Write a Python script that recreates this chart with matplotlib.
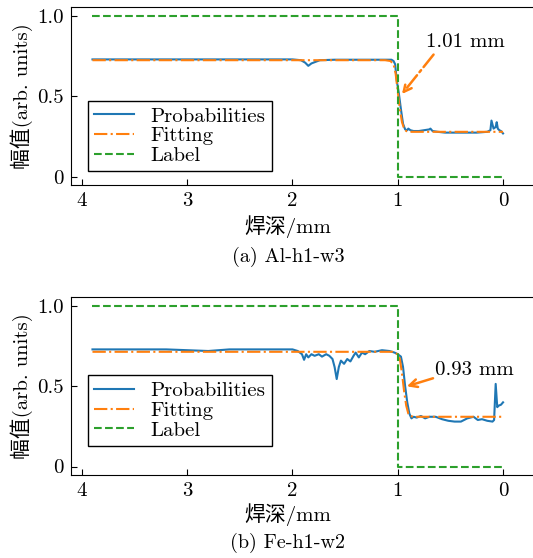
import matplotlib
matplotlib.use("Agg")
import matplotlib.pyplot as plt

plt.rcParams['font.family'] = ['cmr10', 'Noto Sans CJK SC', 'DejaVu Sans']
plt.rcParams['mathtext.fontset'] = 'cm'
plt.rcParams['axes.formatter.use_mathtext'] = True
plt.rcParams['font.size'] = 15

# (a) Al-h1-w3
a_prob_x = [3.9, 3.0, 2.0, 1.92, 1.88, 1.85, 1.82, 1.78, 1.74, 1.6, 1.2, 1.06, 1.04, 1.025,
            1.01, 0.99, 0.97, 0.95, 0.93, 0.91, 0.90, 0.88, 0.85, 0.80, 0.75, 0.70, 0.69,
            0.67, 0.62, 0.55, 0.45, 0.35, 0.25, 0.15, 0.12, 0.11, 0.09, 0.07, 0.06, 0.05,
            0.035, 0.02, 0.0]
a_prob_y = [0.73, 0.73, 0.73, 0.725, 0.71, 0.69, 0.705, 0.715, 0.725, 0.728, 0.728, 0.728, 0.72, 0.70,
            0.60, 0.52, 0.42, 0.33, 0.295, 0.29, 0.30, 0.29, 0.285, 0.285, 0.29, 0.295, 0.30,
            0.285, 0.28, 0.275, 0.275, 0.275, 0.275, 0.28, 0.29, 0.35, 0.30, 0.31, 0.34, 0.30,
            0.29, 0.285, 0.27]
a_fit_x = [3.9, 1.12, 1.07, 1.04, 1.02, 1.0, 0.98, 0.96, 0.94, 0.92, 0.89, 0.85, 0.0]
a_fit_y = [0.725, 0.725, 0.72, 0.70, 0.64, 0.53, 0.42, 0.34, 0.30, 0.285, 0.28, 0.28, 0.28]
a_label_x = [3.9, 1.0, 1.0, 0.0]
a_label_y = [1.0, 1.0, 0.0, 0.0]

# (b) Fe-h1-w2
b_prob_x = [3.9, 3.2, 2.8, 2.6, 2.0, 1.95, 1.91, 1.89, 1.87, 1.85, 1.82, 1.79, 1.75, 1.72, 1.68,
            1.65, 1.62, 1.60, 1.58, 1.56, 1.54, 1.51, 1.48, 1.45, 1.42, 1.40, 1.37, 1.34, 1.31,
            1.27, 1.22, 1.15, 1.08, 1.03, 1.0, 0.97, 0.95, 0.93, 0.91, 0.89, 0.87, 0.85,
            0.82, 0.78, 0.74, 0.70, 0.64, 0.58, 0.52, 0.46, 0.40, 0.34, 0.28, 0.24, 0.20,
            0.15, 0.10, 0.085, 0.07, 0.055, 0.04, 0.02, 0.0]
b_prob_y = [0.73, 0.73, 0.72, 0.73, 0.73, 0.72, 0.70, 0.665, 0.70, 0.68, 0.70, 0.69, 0.70, 0.685, 0.70,
            0.69, 0.67, 0.62, 0.545, 0.62, 0.66, 0.64, 0.67, 0.655, 0.69, 0.71, 0.68, 0.71, 0.70,
            0.72, 0.715, 0.725, 0.72, 0.71, 0.70, 0.685, 0.62, 0.50, 0.40, 0.33, 0.30, 0.31,
            0.305, 0.315, 0.30, 0.31, 0.31, 0.295, 0.285, 0.28, 0.28, 0.30, 0.31, 0.29, 0.295,
            0.285, 0.28, 0.29, 0.515, 0.37, 0.38, 0.385, 0.40]
b_fit_x = [3.9, 1.05, 1.0, 0.98, 0.96, 0.94, 0.92, 0.90, 0.88, 0.85, 0.80, 0.0]
b_fit_y = [0.715, 0.715, 0.70, 0.67, 0.58, 0.47, 0.38, 0.33, 0.315, 0.31, 0.31, 0.31]
b_label_x = [3.9, 1.0, 1.0, 0.0]
b_label_y = [1.0, 1.0, 0.0, 0.0]

panels = [
    dict(px=a_prob_x, py=a_prob_y, fx=a_fit_x, fy=a_fit_y, lx=a_label_x, ly=a_label_y,
         text="1.01 mm", text_xy=(0.36, 0.84), tip=(0.96, 0.515), tail=(0.66, 0.76),
         ls='-.', leg_y=0.079, caption="(a) Al-h1-w3"),
    dict(px=b_prob_x, py=b_prob_y, fx=b_fit_x, fy=b_fit_y, lx=b_label_x, ly=b_label_y,
         text="0.93 mm", text_xy=(0.27, 0.60), tip=(0.914, 0.50), tail=(0.665, 0.55),
         ls='-', leg_y=0.164, caption="(b) Fe-h1-w2"),
]

fig = plt.figure(figsize=(5.33, 5.58), dpi=100)
rects = [[0.133, 0.668, 0.875, 0.319], [0.133, 0.149, 0.875, 0.318]]
xlab_y = [0.593, 0.077]
cap_y = [0.539, 0.027]

for rect, p, xly, cy in zip(rects, panels, xlab_y, cap_y):
    ax = fig.add_axes(rect)
    ax.plot(p['px'], p['py'], color='#1f77b4', lw=1.5, label='Probabilities')
    ax.plot(p['fx'], p['fy'], color='#ff7f0e', lw=1.5, ls='-.', label='Fitting')
    ax.plot(p['lx'], p['ly'], color='#2ca02c', lw=1.5, ls='--', label='Label')
    ax.set_xlim(4.105, -0.325)
    ax.set_ylim(-0.052, 1.054)
    ax.spines['right'].set_visible(False)
    ax.set_xticks([4, 3, 2, 1, 0])
    ax.set_xticklabels(['4', '3', '2', '1', '0'])
    ax.set_yticks([0, 0.5, 1.0])
    ax.set_yticklabels(['0', '0.5', '1.0'])
    ax.tick_params(direction='in', length=4, top=False, right=False, pad=5)
    ax.set_ylabel('幅值(arb. units)', labelpad=3)
    ax.text(p['text_xy'][0], p['text_xy'][1], p['text'], ha='center', va='center')
    ax.annotate('', xy=p['tip'], xytext=p['tail'],
                arrowprops=dict(arrowstyle='->', color='#ff7f0e', lw=1.8, ls=p['ls'],
                                shrinkA=0, shrinkB=0, mutation_scale=14))
    leg = ax.legend(loc='lower left', bbox_to_anchor=(0.037, p['leg_y']), fancybox=False,
                    edgecolor='black', framealpha=1, handlelength=1.9, borderpad=0.3,
                    labelspacing=0.05, handletextpad=0.8, borderaxespad=0)
    leg.get_frame().set_linewidth(1.0)
    fig.text(0.54, xly, '焊深/mm', ha='center', va='center')
    fig.text(0.54, cy, p['caption'], ha='center', va='center', fontsize=14.5)

fig.savefig('out.png', dpi=100)
